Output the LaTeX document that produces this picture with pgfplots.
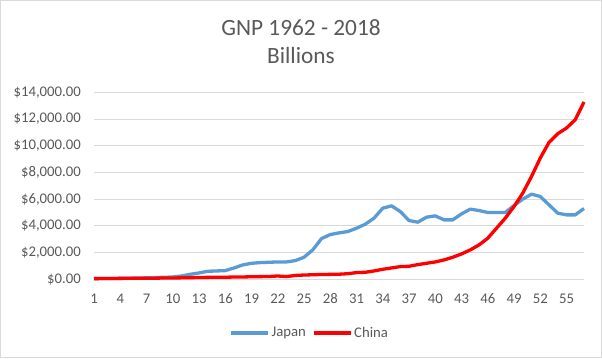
\documentclass[border=0pt]{standalone}
\usepackage{pgfplots}
\pgfplotsset{compat=1.18}
\usepackage{fontspec}
\setmainfont{Carlito}
\definecolor{jp}{HTML}{5B9BD5}
\definecolor{cn}{HTML}{FF0000}
\definecolor{txt}{HTML}{595959}
\definecolor{gridc}{HTML}{D9D9D9}
\pgfplotstableread{
x japan china
1 50 50
2 55 55
3 62 60
4 70 70
5 80 75
6 95 75
7 110 80
8 130 85
9 150 95
10 175 100
11 250 110
12 375 120
13 475 135
14 600 145
15 625 160
16 650 155
17 850 170
18 1075 175
19 1200 190
20 1250 200
21 1275 210
22 1300 250
23 1300 200
24 1400 290
25 1650 320
26 2200 340
27 3050 360
28 3350 370
29 3475 380
30 3575 420
31 3825 500
32 4125 525
33 4575 625
34 5325 750
35 5500 850
36 5075 950
37 4400 975
38 4275 1100
39 4650 1200
40 4750 1300
41 4450 1450
42 4450 1650
43 4900 1900
44 5250 2200
45 5150 2575
46 5000 3075
47 5000 3825
48 5000 4575
49 5525 5450
50 6000 6450
51 6375 7700
52 6200 9075
53 5575 10250
54 4950 10900
55 4825 11325
56 4825 11950
57 5300 13275
}\gnp
\begin{document}
\begin{tikzpicture}[x=1bp,y=1bp]
\useasboundingbox (0,0) rectangle (602,358);
\draw[color=gridc, line width=0.8bp] (0.5,0.5) rectangle (601.5,357.5);
\node[txt, anchor=base, font=\fontsize{23.4}{28}\selectfont] at (301,323) {GNP 1962 - 2018};
\node[txt, anchor=base, font=\fontsize{23.4}{28}\selectfont] at (301,295) {Billions};
\begin{axis}[
  at={(94bp,78.7bp)}, anchor=south west,
  scale only axis, width=490bp, height=187bp,
  xmin=1, xmax=57, ymin=0, ymax=14000,
  xtick={1,4,...,55},
  ytick={0,2000,...,14000},
  scaled y ticks=false,
  yticklabels={{\$0.00},{\$2,000.00},{\$4,000.00},{\$6,000.00},{\$8,000.00},{\$10,000.00},{\$12,000.00},{\$14,000.00}},
  /pgf/number format/assume math mode=true,
  axis y line*=left,
  y axis line style={draw=none},
  axis x line*=bottom,
  x axis line style={draw=gridc, line width=0.8bp, -},
  ymajorgrids, grid style={draw=gridc, line width=0.8bp},
  major tick length=0pt,
  tick label style={font=\fontsize{14.8}{17}\selectfont, text=txt},
  xticklabel style={anchor=base, yshift=-23.7bp},
  yticklabel style={anchor=east, inner sep=0pt, xshift=-13bp},
  legend style={at={(0.44,-0.287)}, anchor=center, draw=none, fill=none,
    font=\fontsize{14.8}{17}\selectfont, text=txt, legend columns=2,
    /tikz/every even column/.append style={column sep=4bp}},
  legend image code/.code={\draw[#1] (0bp,0bp) -- (37bp,0bp);},
  clip=false,
]
\addplot[jp, line width=3.3bp, line join=round] table[x=x, y=japan] {\gnp};
\addlegendentry{Japan}
\addplot[cn, line width=3.3bp, line join=round] table[x=x, y=china] {\gnp};
\addlegendentry{China}
\end{axis}
\end{tikzpicture}
\end{document}
